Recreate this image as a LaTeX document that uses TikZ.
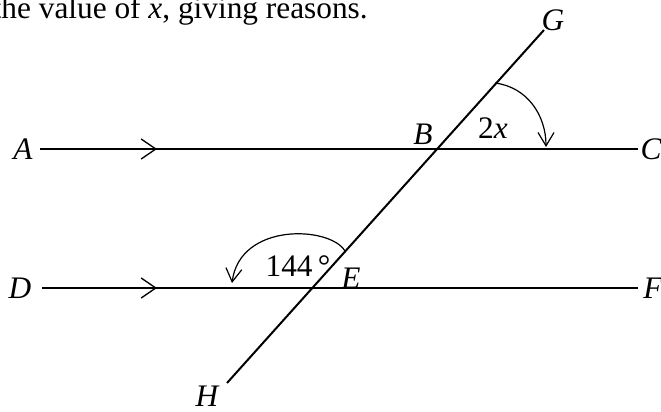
\documentclass[tikz,border=0pt]{standalone}
\usepackage{fontspec}
\setmainfont{Liberation Serif}
\usetikzlibrary{arrows.meta}
\begin{document}
\begin{tikzpicture}[
    x=0.75pt, y=-0.75pt,
    line/.style={line width=1.5pt},
    turn/.style={line width=0.9pt},
    par/.style={line width=1.5pt, -{Straight Barb[length=11pt,width=15pt,line width=1pt]}},
    turnarr/.style={turn, -{Straight Barb[length=10pt,width=12pt,line width=0.9pt]}},
    lbl/.style={font=\fontsize{23.5}{28}\selectfont\itshape, inner sep=0pt},
    txt/.style={font=\fontsize{23.5}{28}\selectfont, inner sep=0pt},
  ]
  \useasboundingbox (0,0) rectangle (661,411);

  % question text, cut off on the left
  \node[txt, anchor=base east] (q) at (368,18) {the value of \textit{x}, giving reasons.};

  % points
  \coordinate (A) at (40,149);
  \coordinate (C) at (638,149);
  \coordinate (D) at (42,288);
  \coordinate (F) at (638,288);
  \coordinate (B) at (437,149);
  \coordinate (E) at (312,288);
  \coordinate (G) at (544,30);
  \coordinate (H) at (227,383);

  \draw[line] (A) -- (C);
  \draw[line] (D) -- (F);
  \draw[line] (H) -- (G);

  % parallel marks
  \coordinate (pa) at (97,149);
  \coordinate (pb) at (157,149);
  \coordinate (pd) at (97,288);
  \coordinate (pe) at (157,288);
  \draw[par] (pa) -- (pb);
  \draw[par] (pd) -- (pe);

  % angle arrows
  \coordinate (b1) at (495,83);
  \coordinate (b2) at (546,147);
  \draw[turnarr] (b1) .. controls (527,87) and (546,115) .. (b2);
  \coordinate (e1) at (345,251);
  \coordinate (e2) at (232,283);
  \draw[turnarr] (e1) .. controls (330,226) and (240,222) .. (e2);

  % labels
  \node[lbl] (lA) at (23,149) {A};
  \node[lbl] (lC) at (651,149) {C};
  \node[lbl] (lD) at (20,288) {D};
  \node[lbl] (lF) at (653,288) {F};
  \node[lbl] (lG) at (553,20) {G};
  \node[lbl] (lB) at (423,134) {B};
  \node[lbl] (lH) at (207,396) {H};
  \node[lbl] (lE) at (351,278) {E};
  \node[txt] (l2x) at (493,128) {2\textit{x}};
  \node[txt] (l144) at (298,266) {144\,°};
\end{tikzpicture}
\end{document}
